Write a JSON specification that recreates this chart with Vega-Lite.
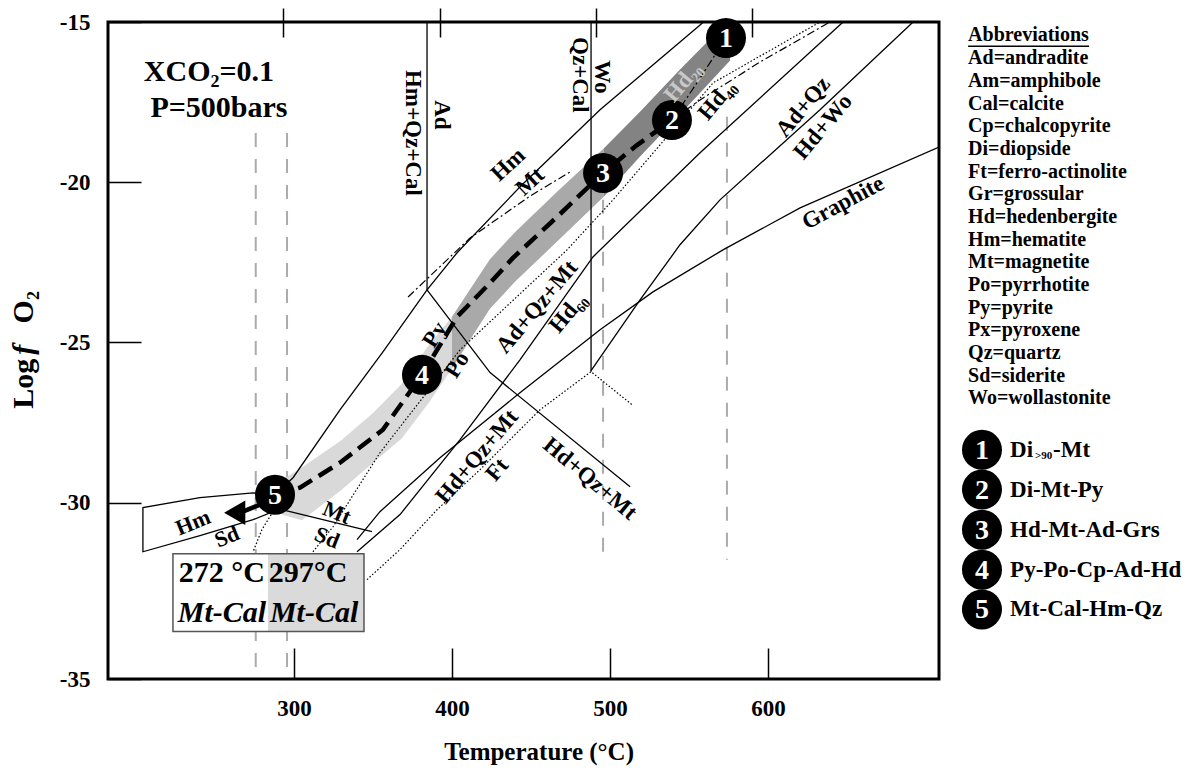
{
"$schema":"https://vega.github.io/schema/vega-lite/v6.json",
"width":831,"height":657,
"autosize":{"type":"none"},
"padding":{"left":108,"top":22,"right":262,"bottom":99},
"background":"#ffffff",
"config":{
 "view":{"stroke":"#000000","strokeWidth":3},
 "axis":{"labelFont":"Liberation Serif","labelFontWeight":"bold","labelColor":"#000000","labelFontSize":23,"tickColor":"#000000","tickWidth":1.5,"grid":false,"domain":false,"title":null}
},
"datasets":{
 "lines":[
  {"id":"i1","kind":"isotherm","T":275.8,"v":-18.46},{"id":"i1","kind":"isotherm","T":275.8,"v":-35.5},
  {"id":"i2","kind":"isotherm","T":295.6,"v":-18.46},{"id":"i2","kind":"isotherm","T":295.6,"v":-35.5},
  {"id":"i3","kind":"isotherm","T":495.6,"v":-20.55},{"id":"i3","kind":"isotherm","T":495.6,"v":-31.78},
  {"id":"i4","kind":"isotherm","T":574.0,"v":-17.96},{"id":"i4","kind":"isotherm","T":574.0,"v":-31.78},
  {"id":"A","kind":"reaction","T":288.0,"v":-29.75},{"id":"A","kind":"reaction","T":299.4,"v":-29.22},{"id":"A","kind":"reaction","T":329.1,"v":-27.10},{"id":"A","kind":"reaction","T":356.3,"v":-25.29},{"id":"A","kind":"reaction","T":384.2,"v":-23.36},{"id":"A","kind":"reaction","T":403.2,"v":-22.20},{"id":"A","kind":"reaction","T":443.7,"v":-20.11},{"id":"A","kind":"reaction","T":493.7,"v":-17.74},{"id":"A","kind":"reaction","T":557.0,"v":-15.09},{"id":"A","kind":"reaction","T":559.1,"v":-15.0},
  {"id":"Ad","kind":"reaction","T":384.2,"v":-15.0},{"id":"Ad","kind":"reaction","T":384.2,"v":-23.36},
  {"id":"Wo","kind":"reaction","T":488.0,"v":-15.0},{"id":"Wo","kind":"reaction","T":488.0,"v":-25.91},
  {"id":"PyPo","kind":"reaction","T":384.2,"v":-23.36},{"id":"PyPo","kind":"reaction","T":424.1,"v":-25.94},{"id":"PyPo","kind":"reaction","T":512.7,"v":-29.50},
  {"id":"B1","kind":"reaction","T":339.9,"v":-31.53},{"id":"B1","kind":"reaction","T":367.1,"v":-30.37},{"id":"B1","kind":"reaction","T":405.1,"v":-28.03},{"id":"B1","kind":"reaction","T":443.0,"v":-25.54},{"id":"B1","kind":"reaction","T":489.2,"v":-22.33},{"id":"B1","kind":"reaction","T":557.0,"v":-19.08},{"id":"B1","kind":"reaction","T":647.5,"v":-15.0},
  {"id":"B","kind":"reaction","T":488.0,"v":-25.88},{"id":"B","kind":"reaction","T":519.0,"v":-23.67},{"id":"B","kind":"reaction","T":544.3,"v":-21.95},{"id":"B","kind":"reaction","T":569.6,"v":-20.55},{"id":"B","kind":"reaction","T":632.9,"v":-17.74},{"id":"B","kind":"reaction","T":691.8,"v":-15.0},
  {"id":"G","kind":"reaction","T":339.9,"v":-31.15},{"id":"G","kind":"reaction","T":354.4,"v":-30.28},{"id":"G","kind":"reaction","T":392.4,"v":-28.60},{"id":"G","kind":"reaction","T":443.0,"v":-26.57},{"id":"G","kind":"reaction","T":493.7,"v":-24.60},{"id":"G","kind":"reaction","T":527.2,"v":-23.42},{"id":"G","kind":"reaction","T":571.5,"v":-22.11},{"id":"G","kind":"reaction","T":620.3,"v":-20.80},{"id":"G","kind":"reaction","T":708.2,"v":-18.90},
  {"id":"HmBox","kind":"reaction","T":288.0,"v":-29.75},{"id":"HmBox","kind":"reaction","T":274.1,"v":-29.69},{"id":"HmBox","kind":"reaction","T":240.5,"v":-29.84},{"id":"HmBox","kind":"reaction","T":204.4,"v":-30.15},{"id":"HmBox","kind":"reaction","T":204.4,"v":-31.53},{"id":"HmBox","kind":"reaction","T":240.5,"v":-31.03},{"id":"HmBox","kind":"reaction","T":274.1,"v":-30.53},{"id":"HmBox","kind":"reaction","T":293.0,"v":-30.15},
  {"id":"MtSd","kind":"reaction","T":293.0,"v":-30.22},{"id":"MtSd","kind":"reaction","T":349.4,"v":-30.90},
  {"id":"D1","kind":"sulfide","T":346.2,"v":-32.40},{"id":"D1","kind":"sulfide","T":367.1,"v":-31.46},{"id":"D1","kind":"sulfide","T":390.5,"v":-30.22},{"id":"D1","kind":"sulfide","T":417.7,"v":-28.97},{"id":"D1","kind":"sulfide","T":455.7,"v":-27.10},{"id":"D1","kind":"sulfide","T":488.0,"v":-25.91},{"id":"D1","kind":"sulfide","T":513.9,"v":-26.94},
  {"id":"D2","kind":"sulfide","T":312.0,"v":-31.53},{"id":"D2","kind":"sulfide","T":324.7,"v":-30.75},{"id":"D2","kind":"sulfide","T":354.4,"v":-28.44},{"id":"D2","kind":"sulfide","T":405.1,"v":-25.23},{"id":"D2","kind":"sulfide","T":472.8,"v":-22.11},{"id":"D2","kind":"sulfide","T":501.9,"v":-20.55},{"id":"D2","kind":"sulfide","T":565.2,"v":-16.90},{"id":"D2","kind":"sulfide","T":632.9,"v":-15.0},
  {"id":"MC","kind":"sulfide","T":286.7,"v":-30.28},{"id":"MC","kind":"sulfide","T":279.7,"v":-30.84},{"id":"MC","kind":"sulfide","T":274.1,"v":-31.53},
  {"id":"DD1","kind":"dashdot","T":372.2,"v":-23.58},{"id":"DD1","kind":"dashdot","T":411.4,"v":-21.74},{"id":"DD1","kind":"dashdot","T":449.4,"v":-20.43},{"id":"DD1","kind":"dashdot","T":474.7,"v":-19.68},
  {"id":"DD2","kind":"dashdot","T":539.2,"v":-18.06},{"id":"DD2","kind":"dashdot","T":557.0,"v":-17.43},{"id":"DD2","kind":"dashdot","T":594.9,"v":-16.25},{"id":"DD2","kind":"dashdot","T":639.2,"v":-15.0},
  {"id":"DD3","kind":"dashdot","T":539.2,"v":-18.06},{"id":"DD3","kind":"dashdot","T":555.0,"v":-16.9},{"id":"DD3","kind":"dashdot","T":573.4,"v":-15.5},
  {"id":"P","kind":"path","T":288.0,"v":-29.75},{"id":"P","kind":"path","T":303.8,"v":-29.53},{"id":"P","kind":"path","T":329.1,"v":-28.75},{"id":"P","kind":"path","T":356.3,"v":-27.72},{"id":"P","kind":"path","T":381.0,"v":-26.01},{"id":"P","kind":"path","T":403.2,"v":-24.20},{"id":"P","kind":"path","T":424.1,"v":-23.14},{"id":"P","kind":"path","T":438.6,"v":-22.36},{"id":"P","kind":"path","T":466.5,"v":-21.08},{"id":"P","kind":"path","T":495.6,"v":-19.71},{"id":"P","kind":"path","T":517.1,"v":-18.84},{"id":"P","kind":"path","T":539.2,"v":-18.06},
  {"id":"AR","kind":"arrow","T":284.0,"v":-29.95},{"id":"AR","kind":"arrow","T":266.0,"v":-30.31}
 ],
 "band":[
  {"seg":"light","T":284,"hi":-29.55,"lo":-30.25},{"seg":"light","T":305,"hi":-28.9,"lo":-30.55},{"seg":"light","T":330,"hi":-28.05,"lo":-29.6},{"seg":"light","T":350,"hi":-27.2,"lo":-28.75},{"seg":"light","T":368,"hi":-26.3,"lo":-28.0},{"seg":"light","T":385,"hi":-25.1,"lo":-26.9},{"seg":"light","T":400,"hi":-24.2,"lo":-25.8},
  {"seg":"medium","T":400,"hi":-24.2,"lo":-25.8},{"seg":"medium","T":424,"hi":-22.4,"lo":-23.95},{"seg":"medium","T":440,"hi":-21.55,"lo":-23.1},{"seg":"medium","T":466.5,"hi":-20.3,"lo":-21.85},{"seg":"medium","T":496,"hi":-18.95,"lo":-20.45},
  {"seg":"dark","T":496,"hi":-18.95,"lo":-20.45},{"seg":"dark","T":519,"hi":-17.8,"lo":-19.2},{"seg":"dark","T":544,"hi":-16.5,"lo":-17.9},{"seg":"dark","T":576,"hi":-14.9,"lo":-16.2}
 ],
 "boxfill":[{"part":"a","T0":223.4,"T1":283.5,"v0":-31.59,"v1":-34.02},{"part":"b","T0":283.5,"T1":344.3,"v0":-31.59,"v1":-34.02}],
 "boxline":[{"T0":223.4,"T1":344.3,"v0":-31.59,"v1":-34.02}],
 "arrowhead":[{"T":262.5,"v":-30.31}],
 "circles":[{"n":"1","T":573.4,"v":-15.5},{"n":"2","T":539.2,"v":-18.06},{"n":"3","T":495.6,"v":-19.71},{"n":"4","T":381.0,"v":-26.01},{"n":"5","T":288.0,"v":-29.75},
  {"n":"1","T":735.4,"v":-28.35},{"n":"2","T":735.4,"v":-29.59},{"n":"3","T":735.4,"v":-30.84},{"n":"4","T":735.4,"v":-32.09},{"n":"5","T":735.4,"v":-33.33}],
 "lab90":[{"t":"Hm+Qz+Cal","T":375.3,"v":-18.46},{"t":"Ad","T":393.7,"v":-17.90},{"t":"Qz+Cal","T":481.0,"v":-16.65},{"t":"Wo","T":494.9,"v":-16.71}],
 "lab317":[{"t":"Hm","T":435.5,"v":-19.45},{"t":"Mt","T":449.4,"v":-19.98}],
 "lab310":[{"t":"Hd₄₀","T":567.7,"v":-17.43},{"t":"Ad+Qz+Mt","T":453.8,"v":-23.89},{"t":"Hd₆₀","T":473.4,"v":-24.07},{"t":"Hd+Qz+Mt","T":415.8,"v":-28.56},{"t":"Ft","T":428.5,"v":-28.97},{"t":"Ad+Qz","T":622.2,"v":-17.65},{"t":"Hd+Wo","T":634.8,"v":-18.27}],
 "lab310g":[{"t":"Hd₂₀","T":546.2,"v":-16.87}],
 "lab302":[{"t":"Py","T":389.2,"v":-24.76},{"t":"Po","T":403.2,"v":-25.70}],
 "lab40":[{"t":"Hd+Qz+Mt","T":487.3,"v":-29.25}],
 "lab338":[{"t":"Hm","T":236.1,"v":-30.62},{"t":"Sd","T":257.6,"v":-31.06}],
 "lab22":[{"t":"Mt","T":327.2,"v":-30.31},{"t":"Sd","T":320.9,"v":-31.09}],
 "lab332":[{"t":"Graphite","T":647.5,"v":-20.64}],
 "head":[{"t":"XCO₂=0.1","T":246.2,"v":-16.56},{"t":"P=500bars","T":252.5,"v":-17.68}],
 "boxtxt":[{"t":"272 °C","T":254.4,"v":-32.18},{"t":"297°C","T":308.9,"v":-32.18}],
 "boxital":[{"t":"Mt-Cal","T":254.4,"v":-33.43},{"t":"Mt-Cal","T":312.7,"v":-33.43}],
 "abbr":[{"t":"Abbreviations","T":726.6,"v":-15.405},{"t":"Ad=andradite","T":726.6,"v":-16.123},{"t":"Am=amphibole","T":726.6,"v":-16.840},{"t":"Cal=calcite","T":726.6,"v":-17.557},{"t":"Cp=chalcopyrite","T":726.6,"v":-18.243},{"t":"Di=diopside","T":726.6,"v":-18.960},{"t":"Ft=ferro-actinolite","T":726.6,"v":-19.677},{"t":"Gr=grossular","T":726.6,"v":-20.363},{"t":"Hd=hedenbergite","T":726.6,"v":-21.080},{"t":"Hm=hematite","T":726.6,"v":-21.797},{"t":"Mt=magnetite","T":726.6,"v":-22.484},{"t":"Po=pyrrhotite","T":726.6,"v":-23.201},{"t":"Py=pyrite","T":726.6,"v":-23.918},{"t":"Px=pyroxene","T":726.6,"v":-24.604},{"t":"Qz=quartz","T":726.6,"v":-25.321},{"t":"Sd=siderite","T":726.6,"v":-26.038},{"t":"Wo=wollastonite","T":726.6,"v":-26.724}],
 "uline":[{"T":726.6,"T1":803.2,"v":-15.76}],
 "leg":[{"t":"Di","T":753.2,"v":-28.35},{"t":"-Mt","T":780.4,"v":-28.35},{"t":"Di-Mt-Py","T":753.2,"v":-29.59},{"t":"Hd-Mt-Ad-Grs","T":753.2,"v":-30.84},{"t":"Py-Po-Cp-Ad-Hd","T":753.2,"v":-32.09},{"t":"Mt-Cal-Hm-Qz","T":753.2,"v":-33.33}],
 "legsub":[{"t":">90","T":769.0,"v":-28.55}],
 "ytitle":[{"t":"Log","T":134.8,"v":-26.29},{"t":"O₂","T":134.8,"v":-23.90}],
 "ytitlef":[{"t":"f","T":134.8,"v":-25.23}],
 "xtitle":[{"t":"Temperature (°C)","T":455.1,"v":-37.79}]
},
"resolve":{"axis":{"x":"independent","y":"independent"}},
"encoding":{
 "x":{"field":"T","type":"quantitative","scale":{"domain":[182.3,708.2],"nice":false,"zero":false},"axis":null},
 "y":{"field":"v","type":"quantitative","scale":{"domain":[-35.5,-15],"nice":false,"zero":false},"axis":null}
},
"layer":[
 {"data":{"name":"lines"},"transform":[{"filter":"datum.kind === 'isotherm'"}],
  "mark":{"type":"line","stroke":"#ababab","strokeWidth":2,"strokeDash":[14,12],"clip":true},
  "encoding":{
   "x":{"field":"T","type":"quantitative","scale":{"domain":[182.3,708.2],"nice":false,"zero":false},
        "axis":{"orient":"bottom","values":[300,400,500,600],"tickSize":-31,"labelPadding":49,"labelFlush":false}},
   "y":{"field":"v","type":"quantitative","scale":{"domain":[-35.5,-15],"nice":false,"zero":false},
        "axis":{"orient":"left","values":[-15,-20,-25,-30,-35.5],"tickSize":-33,"labelPadding":51,"labelFlush":false,"labelExpr":"datum.value < -35 ? '-35' : '-' + abs(datum.value)"}},
   "detail":{"field":"id"},"order":{"value":null}}},
 {"data":{"name":"band"},
  "mark":{"type":"area","clip":true},
  "encoding":{
   "x":{"field":"T","type":"quantitative","scale":{"domain":[182.3,708.2],"nice":false,"zero":false},
        "axis":{"orient":"top","values":[293.0,392.4,491.1,589.9],"tickSize":29,"offset":-15,"labels":false}},
   "y":{"field":"hi","type":"quantitative","stack":null,"scale":{"domain":[-35.5,-15],"nice":false,"zero":false},"axis":null},
   "y2":{"field":"lo"},
   "color":{"field":"seg","type":"nominal","scale":{"domain":["light","medium","dark"],"range":["#d9d9d9","#a9a9a9","#838383"]},"legend":null}}},
 {"data":{"name":"boxfill"},"transform":[{"filter":"datum.part === 'a'"}],"mark":{"type":"rect","fill":"#ffffff"},
  "encoding":{
   "x":{"field":"T0","type":"quantitative","scale":{"domain":[182.3,708.2],"nice":false,"zero":false},"axis":null},
   "x2":{"field":"T1"},
   "y":{"field":"v0","type":"quantitative","scale":{"domain":[-35.5,-15],"nice":false,"zero":false},"axis":null},
   "y2":{"field":"v1"}}},
 {"data":{"name":"boxfill"},"transform":[{"filter":"datum.part === 'b'"}],"mark":{"type":"rect","fill":"#dadada"},
  "encoding":{
   "x":{"field":"T0","type":"quantitative","scale":{"domain":[182.3,708.2],"nice":false,"zero":false},"axis":null},
   "x2":{"field":"T1"},
   "y":{"field":"v0","type":"quantitative","scale":{"domain":[-35.5,-15],"nice":false,"zero":false},"axis":null},
   "y2":{"field":"v1"}}},
 {"data":{"name":"boxline"},"mark":{"type":"rect","fill":null,"fillOpacity":0,"stroke":"#555555","strokeWidth":1.5},
  "encoding":{
   "x":{"field":"T0","type":"quantitative","scale":{"domain":[182.3,708.2],"nice":false,"zero":false},"axis":null},
   "x2":{"field":"T1"},
   "y":{"field":"v0","type":"quantitative","scale":{"domain":[-35.5,-15],"nice":false,"zero":false},"axis":null},
   "y2":{"field":"v1"}}},
 {"data":{"name":"lines"},"transform":[{"filter":"datum.kind === 'reaction'"}],
  "mark":{"type":"line","color":"#000000","strokeWidth":1.3,"clip":true},
  "encoding":{"detail":{"field":"id"},"order":{"value":null}}},
 {"data":{"name":"lines"},"transform":[{"filter":"datum.kind === 'sulfide'"}],
  "mark":{"type":"line","color":"#000000","strokeWidth":1.2,"strokeDash":[1.5,2],"clip":true},
  "encoding":{"detail":{"field":"id"},"order":{"value":null}}},
 {"data":{"name":"lines"},"transform":[{"filter":"datum.kind === 'dashdot'"}],
  "mark":{"type":"line","color":"#000000","strokeWidth":1.2,"strokeDash":[8,3,2,3],"clip":true},
  "encoding":{"detail":{"field":"id"},"order":{"value":null}}},
 {"data":{"name":"lines"},"transform":[{"filter":"datum.kind === 'path'"}],
  "mark":{"type":"line","color":"#000000","strokeWidth":4.5,"strokeDash":[16,8],"clip":true},
  "encoding":{"detail":{"field":"id"},"order":{"value":null}}},
 {"data":{"name":"lines"},"transform":[{"filter":"datum.kind === 'arrow'"}],
  "mark":{"type":"line","color":"#000000","strokeWidth":4.5,"clip":true},
  "encoding":{"detail":{"field":"id"},"order":{"value":null}}},
 {"data":{"name":"arrowhead"},"mark":{"type":"point","shape":"triangle-left","filled":true,"color":"#000000","size":600,"opacity":1}},
 {"data":{"name":"circles"},"mark":{"type":"point","shape":"circle","filled":true,"color":"#000000","size":1600,"opacity":1}},
 {"data":{"name":"circles"},"mark":{"type":"text","font":"Liberation Serif","fontWeight":"bold","fontSize":28,"color":"#ffffff","align":"center","baseline":"middle","dy":1},
  "encoding":{"text":{"field":"n"}}},
 {"data":{"name":"lab90"},"mark":{"type":"text","font":"Liberation Serif","fontWeight":"bold","fontSize":23,"angle":90,"align":"center","baseline":"middle","color":"#000000"},"encoding":{"text":{"field":"t"}}},
 {"data":{"name":"lab317"},"mark":{"type":"text","font":"Liberation Serif","fontWeight":"bold","fontSize":23,"angle":317,"align":"center","baseline":"middle","color":"#000000"},"encoding":{"text":{"field":"t"}}},
 {"data":{"name":"lab310"},"mark":{"type":"text","font":"Liberation Serif","fontWeight":"bold","fontSize":23,"angle":310,"align":"center","baseline":"middle","color":"#000000"},"encoding":{"text":{"field":"t"}}},
 {"data":{"name":"lab310g"},"mark":{"type":"text","font":"Liberation Serif","fontWeight":"bold","fontSize":23,"angle":310,"align":"center","baseline":"middle","color":"#c8c8c8"},"encoding":{"text":{"field":"t"}}},
 {"data":{"name":"lab302"},"mark":{"type":"text","font":"Liberation Serif","fontWeight":"bold","fontSize":23,"angle":302,"align":"center","baseline":"middle","color":"#000000"},"encoding":{"text":{"field":"t"}}},
 {"data":{"name":"lab40"},"mark":{"type":"text","font":"Liberation Serif","fontWeight":"bold","fontSize":23,"angle":40,"align":"center","baseline":"middle","color":"#000000"},"encoding":{"text":{"field":"t"}}},
 {"data":{"name":"lab338"},"mark":{"type":"text","font":"Liberation Serif","fontWeight":"bold","fontSize":22,"angle":338,"align":"center","baseline":"middle","color":"#000000"},"encoding":{"text":{"field":"t"}}},
 {"data":{"name":"lab22"},"mark":{"type":"text","font":"Liberation Serif","fontWeight":"bold","fontSize":22,"angle":22,"align":"center","baseline":"middle","color":"#000000"},"encoding":{"text":{"field":"t"}}},
 {"data":{"name":"lab332"},"mark":{"type":"text","font":"Liberation Serif","fontWeight":"bold","fontSize":23,"angle":332,"align":"center","baseline":"middle","color":"#000000"},"encoding":{"text":{"field":"t"}}},
 {"data":{"name":"head"},"mark":{"type":"text","font":"Liberation Serif","fontWeight":"bold","fontSize":30,"align":"center","baseline":"middle","color":"#000000"},"encoding":{"text":{"field":"t"}}},
 {"data":{"name":"boxtxt"},"mark":{"type":"text","font":"Liberation Serif","fontWeight":"bold","fontSize":30,"align":"center","baseline":"middle","color":"#000000"},"encoding":{"text":{"field":"t"}}},
 {"data":{"name":"boxital"},"mark":{"type":"text","font":"Liberation Serif","fontWeight":"bold","fontStyle":"italic","fontSize":30,"align":"center","baseline":"middle","color":"#000000"},"encoding":{"text":{"field":"t"}}},
 {"data":{"name":"abbr"},"mark":{"type":"text","font":"Liberation Serif","fontWeight":"bold","fontSize":20,"align":"left","baseline":"middle","color":"#000000"},"encoding":{"text":{"field":"t"}}},
 {"data":{"name":"uline"},"mark":{"type":"rule","color":"#000000","strokeWidth":1.5},
  "encoding":{"x2":{"field":"T1"}}},
 {"data":{"name":"leg"},"mark":{"type":"text","font":"Liberation Serif","fontWeight":"bold","fontSize":23,"align":"left","baseline":"middle","color":"#000000"},"encoding":{"text":{"field":"t"}}},
 {"data":{"name":"legsub"},"mark":{"type":"text","font":"Liberation Serif","fontWeight":"bold","fontSize":11,"align":"left","baseline":"middle","color":"#000000"},"encoding":{"text":{"field":"t"}}},
 {"data":{"name":"ytitle"},"mark":{"type":"text","font":"Liberation Serif","fontWeight":"bold","fontSize":30,"angle":270,"align":"center","baseline":"alphabetic","color":"#000000"},"encoding":{"text":{"field":"t"}}},
 {"data":{"name":"ytitlef"},"mark":{"type":"text","font":"Liberation Serif","fontWeight":"bold","fontStyle":"italic","fontSize":30,"angle":270,"align":"center","baseline":"alphabetic","color":"#000000"},"encoding":{"text":{"field":"t"}}},
 {"data":{"name":"xtitle"},"mark":{"type":"text","font":"Liberation Serif","fontWeight":"bold","fontSize":25,"align":"center","baseline":"middle","color":"#000000"},"encoding":{"text":{"field":"t"}}}
]
}
